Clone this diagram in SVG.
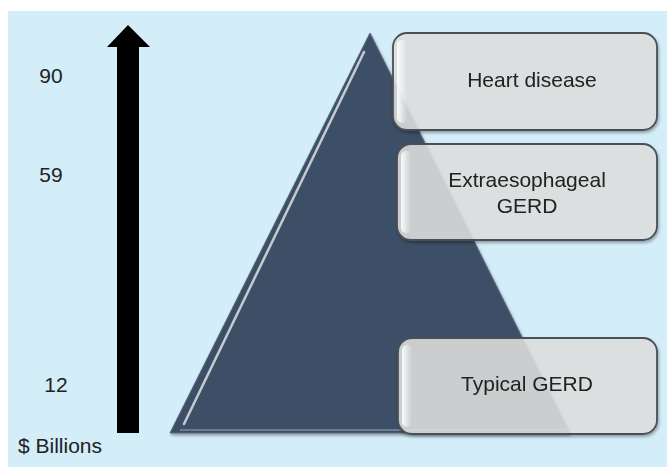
<svg xmlns="http://www.w3.org/2000/svg" width="667" height="467" viewBox="0 0 667 467">
<style>
  text { font-family: "Liberation Sans", Arial, sans-serif; font-size: 21px; fill: #222; }
  .box { fill: #e2e2e2; fill-opacity: 0.84; stroke: #4a4f55; stroke-width: 1.8; }
  .hl { fill: none; stroke: #ffffff; stroke-opacity: 0.7; stroke-width: 2.5; stroke-linecap: round; }
</style>
<defs>
  <filter id="sh" x="-5%" y="-5%" width="115%" height="120%">
    <feGaussianBlur in="SourceAlpha" stdDeviation="1.5"/>
    <feOffset dx="1" dy="2"/>
    <feComponentTransfer><feFuncA type="linear" slope="0.35"/></feComponentTransfer>
    <feMerge><feMergeNode/><feMergeNode in="SourceGraphic"/></feMerge>
  </filter>
  <linearGradient id="boxhl" x1="0" y1="0" x2="1" y2="0">
    <stop offset="0" stop-color="#ffffff" stop-opacity="0.9"/>
    <stop offset="1" stop-color="#ffffff" stop-opacity="0"/>
  </linearGradient>
</defs>
<rect x="8" y="11" width="659" height="456" fill="#d3edf9"/>

<g id="arrow">
  <polygon points="117,433 139,433 139,47 150,47 128,25 107,47 117,47" fill="#000"/>
</g>

<g id="pyramid" filter="url(#sh)">
  <polygon points="370,33 170,433 570,433" fill="#3d4f66" stroke="#56677c" stroke-width="1"/>
  <line class="hl" x1="364" y1="52" x2="184" y2="424"/>
  <line x1="180" y1="430" x2="566" y2="430" stroke="#6b7b8e" stroke-width="2"/>
</g>

<g id="scale-labels">
  <text x="51" y="83" text-anchor="middle">90</text>
  <text x="51" y="182" text-anchor="middle">59</text>
  <text x="56" y="392" text-anchor="middle">12</text>
  <text x="18" y="453">$ Billions</text>
</g>

<g id="box-heart" filter="url(#sh)">
  <rect class="box" x="393" y="33" width="264" height="97" rx="14"/>
  <rect x="397" y="40" width="10" height="83" rx="5" fill="url(#boxhl)"/>
  <text x="532" y="87" text-anchor="middle">Heart disease</text>
</g>

<g id="box-extra" filter="url(#sh)">
  <rect class="box" x="397" y="144" width="260" height="96" rx="14"/>
  <rect x="401" y="151" width="10" height="82" rx="5" fill="url(#boxhl)"/>
  <text x="527" y="187" text-anchor="middle">Extraesophageal</text>
  <text x="527" y="213" text-anchor="middle">GERD</text>
</g>

<g id="box-typical" filter="url(#sh)">
  <rect class="box" x="398" y="338" width="259" height="96" rx="14"/>
  <rect x="402" y="345" width="10" height="82" rx="5" fill="url(#boxhl)"/>
  <text x="527" y="391" text-anchor="middle">Typical GERD</text>
</g>
</svg>
